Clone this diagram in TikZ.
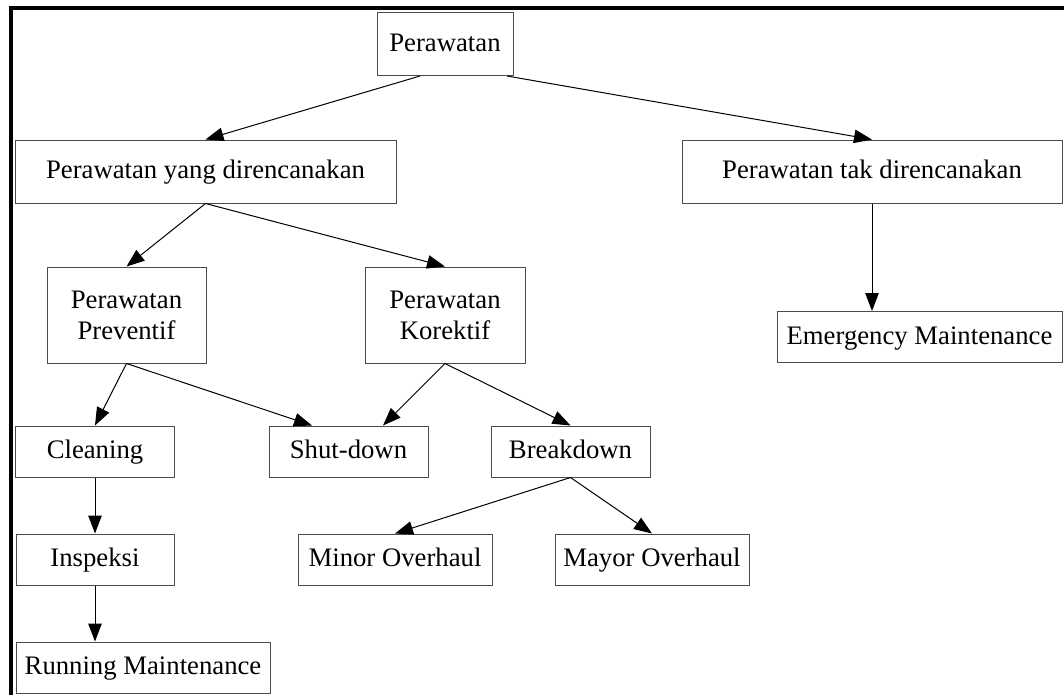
\documentclass[tikz,border=0pt]{standalone}
\usepackage{fontspec}
\setmainfont{Liberation Serif}
\usetikzlibrary{arrows.meta}

\begin{document}
\begin{tikzpicture}[x=0.2mm,y=-0.2mm,>={Triangle[length=3.6mm,width=2.7mm]},
    kotak/.style={draw=black!70, line width=0.2mm, inner sep=0pt, align=center,
        minimum height=10.2mm, font=\fontsize{15.2}{17.6}\selectfont},
    satu/.style={kotak, text height=12pt, text depth=4pt},
    lebar/.style={minimum width=#1*0.2mm},
    panah/.style={->, line width=0.2mm}]
    \useasboundingbox (0,0) rectangle (1064,695);
    \draw[line width=0.8mm] (11,695) -- (11,8) -- (1064,8);

    \node[satu,lebar=136,minimum height=12.6mm] (rawat) at (445,44) {Perawatan};
    \node[satu,lebar=381,minimum height=12.6mm] (terencana) at (205.5,171.5) {Perawatan yang direncanakan};
    \node[satu,lebar=380,minimum height=12.6mm] (takterencana) at (872,171.5) {Perawatan tak direncanakan};
    \node[satu,lebar=285] (darurat) at (919.5,337) {Emergency Maintenance};

    \node[kotak,lebar=159,minimum height=19.2mm] (preventif) at (126.5,315) {Perawatan\\Preventif};
    \node[kotak,lebar=160,minimum height=19.2mm] (korektif) at (445,315) {Perawatan\\Korektif};

    \node[satu,lebar=159] (cleaning) at (95,451.5) {Cleaning};
    \node[satu,lebar=159] (shutdown) at (348.5,451.5) {Shut-down};
    \node[satu,lebar=159] (breakdown) at (570.5,451.5) {Breakdown};

    \node[satu,lebar=158] (inspeksi) at (95,559.5) {Inspeksi};
    \node[satu,lebar=194] (minor) at (395,559.5) {Minor Overhaul};
    \node[satu,lebar=194] (mayor) at (652,559.5) {Mayor Overhaul};
    \node[satu,lebar=254] (running) at (143,667.5) {Running Maintenance};

    \draw[panah] ([xshift=-5mm]rawat.south) -- (terencana.north);
    \draw[panah] ([xshift=12.4mm]rawat.south) -- (takterencana.north);
    \draw[panah] (terencana.south) -- (preventif.north);
    \draw[panah] (terencana.south) -- (korektif.north);
    \draw[panah] (takterencana.south) -- (takterencana.south |- darurat.north);

    \draw[panah] (preventif.south) -- (cleaning.north);
    \draw[panah] (preventif.south) -- ([xshift=-7.3mm]shutdown.north);
    \draw[panah] (korektif.south) -- ([xshift=6.9mm]shutdown.north);
    \draw[panah] (korektif.south) -- (breakdown.north);

    \draw[panah] (breakdown.south) -- (minor.north);
    \draw[panah] (breakdown.south) -- (mayor.north);
    \draw[panah] (cleaning.south) -- (inspeksi.north);
    \draw[panah] (inspeksi.south) -- (inspeksi.south |- running.north);
\end{tikzpicture}
\end{document}
